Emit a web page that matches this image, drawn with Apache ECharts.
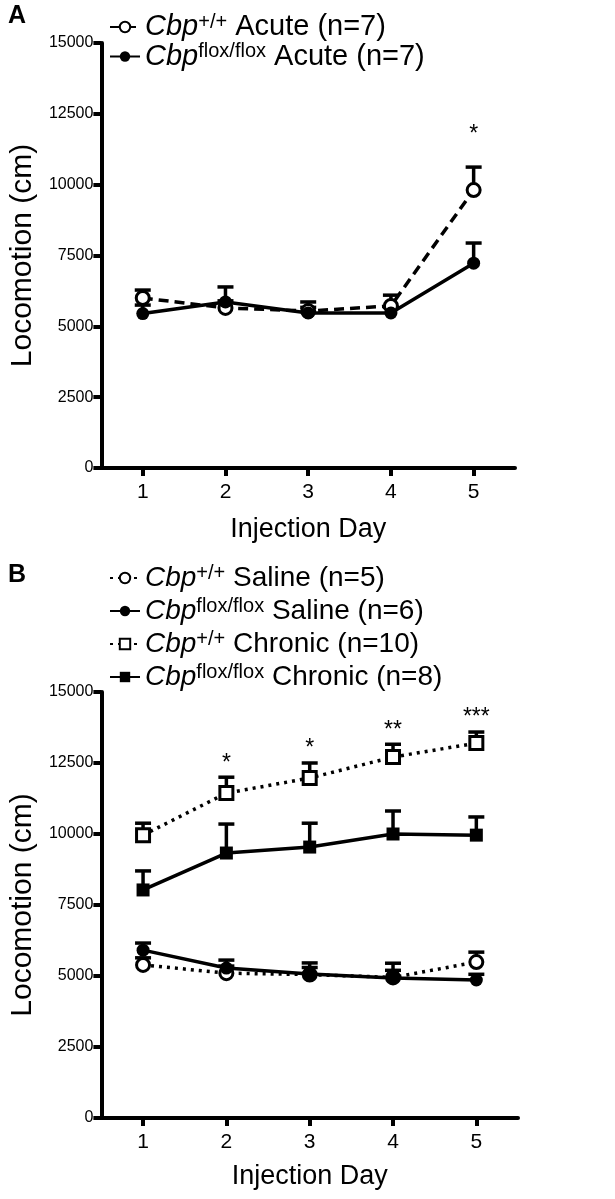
<!DOCTYPE html>
<html>
<head>
<meta charset="utf-8">
<script src="https://cdn.jsdelivr.net/npm/echarts@6/dist/echarts.min.js"></script>
<style>
  html, body { margin: 0; background: #fff; }
  #chart { width: 615px; height: 1199px; }
</style>
</head>
<body>
<div id="chart"></div>
<script>
// 注射天数
const days = ['1', '2', '3', '4', '5']

// A：急性给药
const acuteWtMean = [6000, 5650, 5540, 5720, 9810]
const acuteWtSem = [280, 250, 320, 380, 810]
const acuteFlMean = [5450, 5860, 5470, 5470, 7230]
const acuteFlSem = [300, 530, 200, 200, 710]
const acuteStars = ['', '', '', '', '*']

// B：生理盐水 / 慢性给药
const salineWtMean = [5390, 5100, 5050, 4950, 5490]
const salineWtSem = [250, 250, 250, 250, 350]
const salineFlMean = [5910, 5280, 5070, 4930, 4860]
const salineFlSem = [250, 280, 390, 520, 200]
const chronicWtMean = [9960, 11440, 11970, 12710, 13200]
const chronicWtSem = [420, 560, 530, 450, 390]
const chronicFlMean = [8030, 9330, 9540, 10000, 9960]
const chronicFlSem = [670, 1020, 840, 810, 640]
const chronicStars = ['', '*', '*', '**', '***']

const FONT = "'Liberation Sans', Arial, sans-serif"

// 图例文字（斜体基因名 + 上标）
const legendText = {
  wtAcute: '{i|Cbp}{sup|+/+}{t| Acute (n=7)}',
  flAcute: '{i|Cbp}{sup|flox/flox}{t| Acute (n=7)}',
  wtSaline: '{i|Cbp}{sup|+/+}{t| Saline (n=5)}',
  flSaline: '{i|Cbp}{sup|flox/flox}{t| Saline (n=6)}',
  wtChronic: '{i|Cbp}{sup|+/+}{t| Chronic (n=10)}',
  flChronic: '{i|Cbp}{sup|flox/flox}{t| Chronic (n=8)}',
}

function richFor(size, supSize, lh) {
  return {
    i: { fontStyle: 'italic', fontSize: size, fontFamily: FONT, lineHeight: lh, color: '#000' },
    t: { fontSize: size, fontFamily: FONT, lineHeight: lh, color: '#000' },
    sup: { fontSize: supSize, fontFamily: FONT, verticalAlign: 'top', lineHeight: supSize, color: '#000' },
  }
}

// 误差线：均值 → 均值+SEM，顶端横帽
function errorBar(params, api) {
  const i = api.value(0)
  const base = api.coord([i, api.value(1)])
  const top = api.coord([i, api.value(2)])
  const half = 8
  const st = { stroke: '#000', lineWidth: 3.5 }
  return {
    type: 'group',
    children: [
      { type: 'line', shape: { x1: base[0], y1: base[1], x2: top[0], y2: top[1] }, style: st },
      { type: 'line', shape: { x1: top[0] - half, y1: top[1], x2: top[0] + half, y2: top[1] }, style: st },
    ],
  }
}

function errData(mean, sem) {
  return mean.map((m, i) => [i, m, m + sem[i]])
}

function starSeries(idx, mean, sem, stars, lift) {
  return {
    type: 'custom',
    xAxisIndex: idx,
    yAxisIndex: idx,
    silent: true,
    z: 5,
    data: errData(mean, sem),
    renderItem: (params, api) => {
      const txt = stars[params.dataIndex]
      if (!txt) return null
      const p = api.coord([api.value(0), api.value(2)])
      return {
        type: 'text',
        x: p[0],
        y: p[1] - lift,
        style: { text: txt, fontSize: 23, fontFamily: FONT, fill: '#000', align: 'center', verticalAlign: 'middle' },
      }
    },
  }
}

function errSeries(idx, mean, sem) {
  return { type: 'custom', xAxisIndex: idx, yAxisIndex: idx, silent: true, z: 1, data: errData(mean, sem), renderItem: errorBar }
}

function lineSeries(idx, name, data, opts) {
  return {
    name,
    type: 'line',
    xAxisIndex: idx,
    yAxisIndex: idx,
    data,
    z: 3,
    symbol: opts.symbol,
    symbolSize: opts.size || 13,
    lineStyle: { color: '#000', width: 3.5, type: opts.dash || 'solid' },
    itemStyle: { color: opts.open ? '#fff' : '#000', borderColor: '#000', borderWidth: opts.open ? 3 : 0 },
    emphasis: { disabled: true },
  }
}

const axisLine = { show: true, lineStyle: { color: '#000', width: 4 } }

function xAxisOf(idx) {
  return {
    type: 'category',
    gridIndex: idx,
    data: days,
    boundaryGap: true,
    axisLine,
    axisTick: { show: true, alignWithLabel: true, length: 8, lineStyle: { color: '#000', width: 4 } },
    axisLabel: { color: '#000', fontSize: 21, fontFamily: FONT, margin: 14 },
    name: 'Injection Day',
    nameLocation: 'middle',
    nameGap: idx === 0 ? 48 : 45,
    nameTextStyle: { color: '#000', fontSize: 27, fontFamily: FONT },
  }
}

function yAxisOf(idx) {
  return {
    type: 'value',
    gridIndex: idx,
    min: 0,
    max: 15000,
    interval: 2500,
    splitLine: { show: false },
    axisLine,
    axisTick: { show: true, length: 8, lineStyle: { color: '#000', width: 4 } },
    axisLabel: { color: '#000', fontSize: 16, fontFamily: FONT, margin: 8, formatter: (v) => String(v) },
    name: 'Locomotion (cm)',
    nameLocation: 'middle',
    nameRotate: 90,
    nameGap: 55,
    nameTextStyle: { color: '#000', fontSize: 30, fontFamily: FONT },
  }
}

const chart = echarts.init(document.getElementById('chart'), null, { renderer: 'canvas' })

chart.setOption({
  backgroundColor: '#fff',
  animation: false,
  textStyle: { fontFamily: FONT },
  grid: [
    { left: 90, top: 43, width: 425, height: 425 },
    { left: 97, top: 692, width: 421, height: 426 },
  ],
  xAxis: [xAxisOf(0), xAxisOf(1)],
  yAxis: [yAxisOf(0), yAxisOf(1)],
  legend: [
    {
      data: ['wtAcute', 'flAcute'],
      orient: 'vertical',
      left: 104,
      top: 7,
      itemWidth: 30,
      itemHeight: 13,
      itemGap: 0,
      formatter: (n) => legendText[n],
      textStyle: { rich: richFor(29, 20, 30) },
      selectedMode: false,
    },
    {
      data: ['wtSaline', 'flSaline', 'wtChronic', 'flChronic'],
      orient: 'vertical',
      left: 104,
      top: 558,
      itemWidth: 30,
      itemHeight: 13,
      itemGap: 4,
      formatter: (n) => legendText[n],
      textStyle: { rich: richFor(28, 20, 30) },
      selectedMode: false,
    },
  ],
  graphic: [
    { type: 'text', left: 8, top: 4, style: { text: 'A', fontSize: 25, fontWeight: 'bold', fontFamily: FONT, fill: '#000' } },
    { type: 'text', left: 8, top: 563, style: { text: 'B', fontSize: 25, fontWeight: 'bold', fontFamily: FONT, fill: '#000' } },
  ],
  series: [
    // A
    errSeries(0, acuteWtMean, acuteWtSem),
    errSeries(0, acuteFlMean, acuteFlSem),
    lineSeries(0, 'wtAcute', acuteWtMean, { symbol: 'circle', open: true, dash: [10, 6] }),
    lineSeries(0, 'flAcute', acuteFlMean, { symbol: 'circle', size: 13 }),
    starSeries(0, acuteWtMean, acuteWtSem, acuteStars, 32),
    // B
    errSeries(1, salineWtMean, salineWtSem),
    errSeries(1, salineFlMean, salineFlSem),
    errSeries(1, chronicWtMean, chronicWtSem),
    errSeries(1, chronicFlMean, chronicFlSem),
    lineSeries(1, 'wtSaline', salineWtMean, { symbol: 'circle', open: true, dash: [3, 5] }),
    lineSeries(1, 'flSaline', salineFlMean, { symbol: 'circle', size: 13 }),
    lineSeries(1, 'wtChronic', chronicWtMean, { symbol: 'rect', open: true, dash: [3, 5] }),
    lineSeries(1, 'flChronic', chronicFlMean, { symbol: 'rect', size: 13 }),
    starSeries(1, chronicWtMean, chronicWtSem, chronicStars, 14),
  ],
})
</script>
</body>
</html>
